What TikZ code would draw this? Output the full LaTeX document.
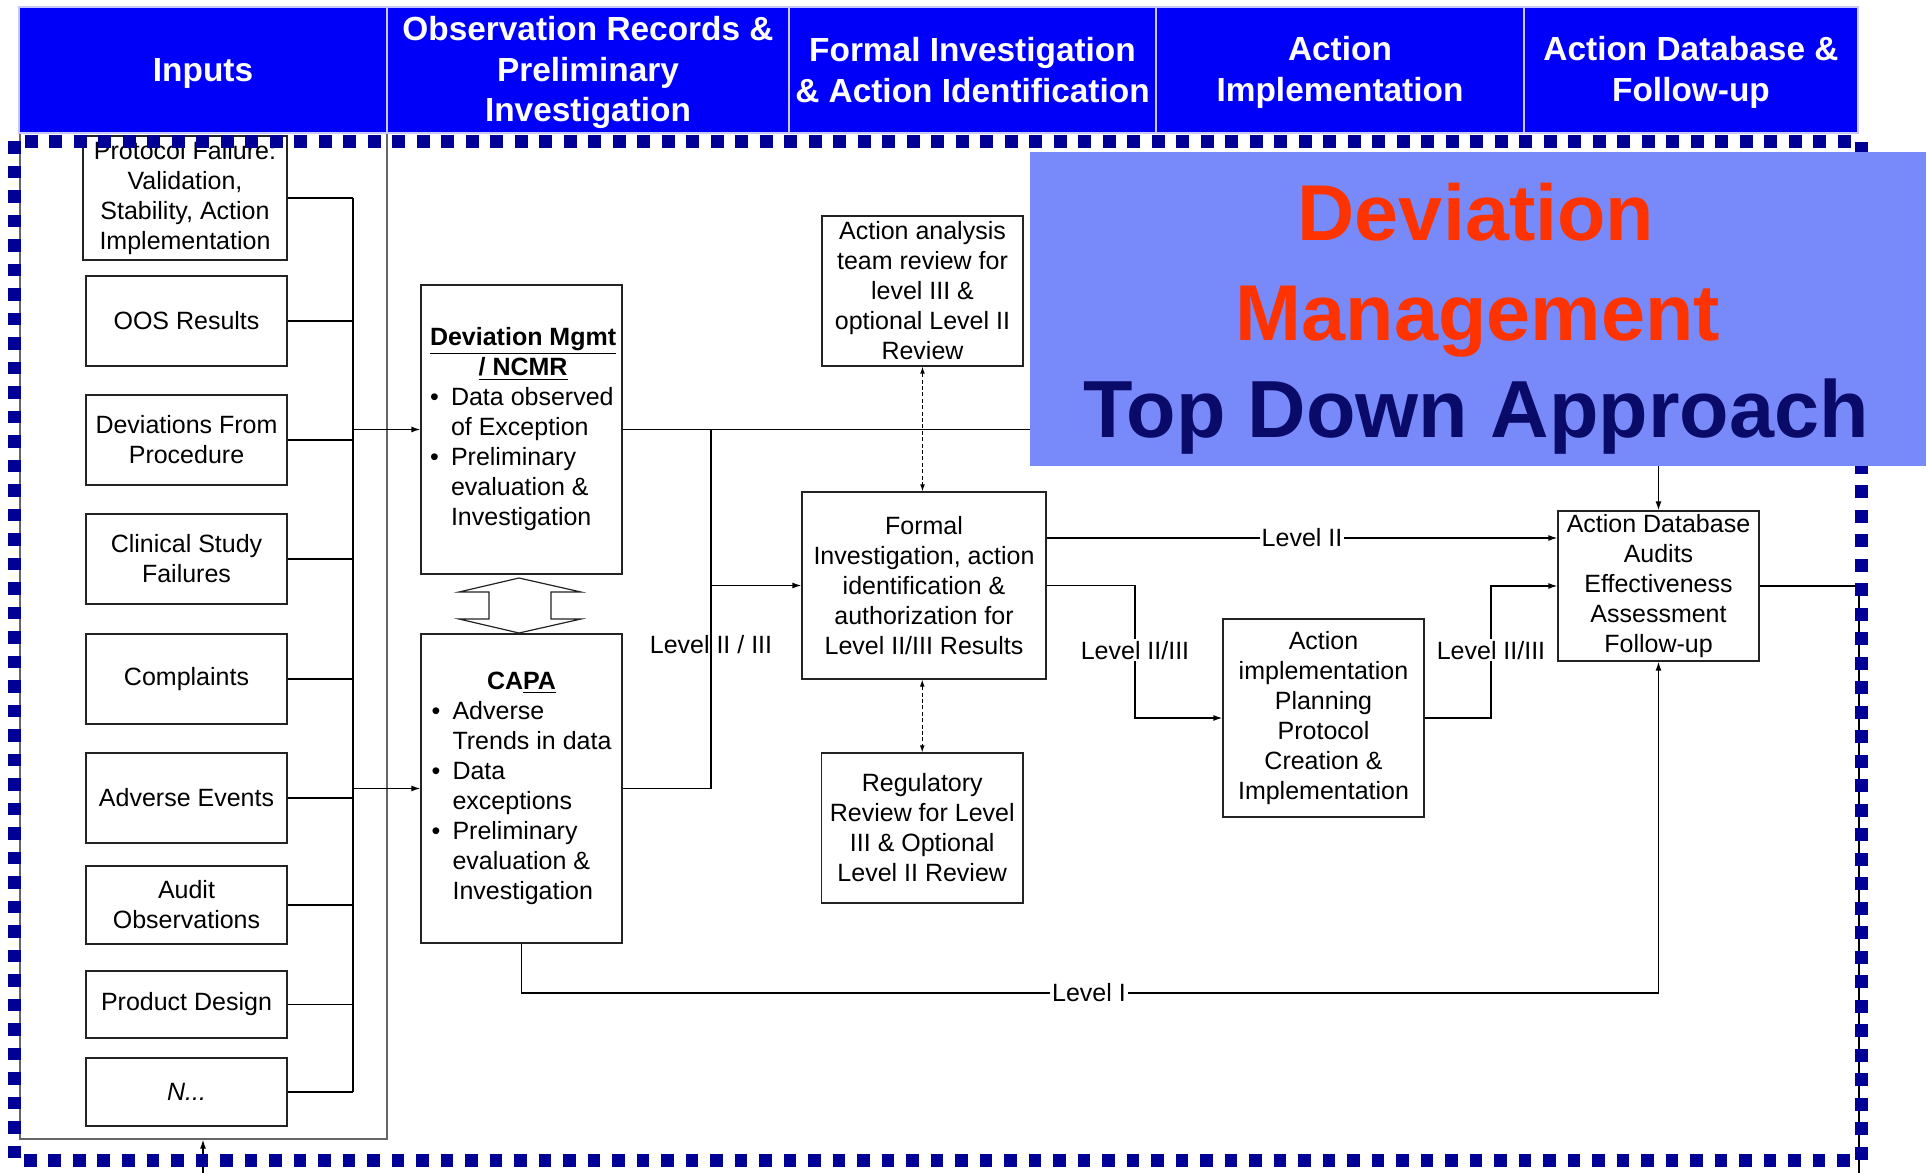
\documentclass[tikz,border=0pt]{standalone}
\usepackage{fontspec}
\setmainfont{Liberation Sans}
\usetikzlibrary{arrows.meta}
\definecolor{hdrblue}{RGB}{0,0,250}
\definecolor{hdredge}{RGB}{200,200,255}
\definecolor{frameblue}{RGB}{0,0,150}
\definecolor{titlebg}{RGB}{120,137,250}
\definecolor{titlered}{RGB}{255,51,0}
\definecolor{titlenavy}{RGB}{10,10,105}
\definecolor{edge}{RGB}{35,35,35}
\newcommand{\bodyfont}{\fontsize{12.5}{15}\selectfont}
\newcommand{\hdrfont}{\fontsize{16.7}{20.3}\selectfont\bfseries}
\newcommand{\bigfont}{\fontsize{39.6}{48}\selectfont\bfseries}
\newcommand{\bigfontb}{\fontsize{40.5}{48}\selectfont\bfseries}
\newcommand{\bitem}[1]{\makebox[10.5pt][l]{\textbullet}#1}
\newcommand{\cont}[1]{\hspace*{10.5pt}#1}
\newcommand{\ctitle}[1]{\multicolumn{1}{@{}c@{}}{#1}}
\begin{document}
\begin{tikzpicture}[x=0.5pt,y=-0.5pt,
  hdr/.style={draw=hdredge, line width=0.6pt, fill=hdrblue, inner sep=0pt, minimum height=63pt},
  hdrtxt/.style={text=white, font=\hdrfont, align=center, inner sep=0pt},
  box/.style={draw=edge, line width=0.65pt, fill=white, font=\bodyfont, align=center, inner sep=0pt},
  inbox/.style={box, minimum width=100.5pt},
  conn/.style={draw=black, line width=0.65pt},
  arr/.style={conn, -{Latex[length=4.5pt,width=3pt]}},
  darr/.style={draw=black, line width=0.5pt, dash pattern=on 2pt off 1.2pt, {Latex[length=3.5pt,width=2.4pt]}-{Latex[length=3.5pt,width=2.4pt]}},
  lvl/.style={font=\bodyfont, inner sep=1pt, anchor=base},
  lvlw/.style={lvl, fill=white},
  bigtxt/.style={font=\bigfont, inner sep=0pt, anchor=base},
]
\useasboundingbox (0,0) rectangle (1929,1173);
\fill[white] (0,0) rectangle (1929,1173);

% Inputs column frame
\node[draw=black!60, line width=0.6pt, minimum width=183.5pt, minimum height=503pt, inner sep=0pt] (inframe) at (203.5,636) {};

% Column headers
\node[hdr, minimum width=184pt] (h1) at (203,70) {};
\node[hdr, minimum width=201pt] (h2) at (588,70) {};
\node[hdr, minimum width=183.5pt] (h3) at (972.5,70) {};
\node[hdr, minimum width=184pt] (h4) at (1340,70) {};
\node[hdr, minimum width=167pt] (h5) at (1691,70) {};
\node[hdrtxt] (h1t) at (203,73.7) {Inputs};
\node[hdrtxt] (h2t) at (588,72.5) {Observation Records \&\\Preliminary\\Investigation};
\node[hdrtxt] (h3t) at (972.5,70) {Formal Investigation\\\& Action Identification};
\node[hdrtxt] (h4t) at (1340,72.5) {Action\\Implementation};
\node[hdrtxt] (h5t) at (1691,72.5) {Action Database \&\\Follow-up};

% Input sources
\node[box, minimum width=102pt, minimum height=62pt] (protocol) at (185,198) {Protocol Failure:\\Validation,\\Stability, Action\\Implementation};
\node[inbox, minimum height=45pt] (oos) at (186.5,321) {OOS Results};
\node[inbox, minimum height=45pt] (devproc) at (186.5,440) {Deviations From\\Procedure};
\node[inbox, minimum height=45pt] (clinical) at (186.5,559) {Clinical Study\\Failures};
\node[inbox, minimum height=45pt] (complaints) at (186.5,679) {Complaints};
\node[inbox, minimum height=45pt] (adverse) at (186.5,798) {Adverse Events};
\node[inbox, minimum height=39pt] (audit) at (186.5,905) {Audit\\Observations};
\node[inbox, minimum height=33.5pt] (product) at (186.5,1004.5) {Product Design};
\node[inbox, minimum height=34pt] (nfail) at (186.5,1092) {\textit{N...}};

% Observation records
\node[box, minimum width=100.5pt, minimum height=144.5pt] (devm) at (521.5,429.5) {};
\node[font=\bodyfont, inner sep=0pt] (devmtxt) at ([xshift=0.8pt]devm.center) {\begin{tabular}{@{}l@{}}
\ctitle{\underline{\textbf{Deviation Mgmt}}}\\
\ctitle{\underline{\textbf{/ NCMR}}}\\
\bitem{Data observed}\\
\cont{of Exception}\\
\bitem{Preliminary}\\
\cont{evaluation \&}\\
\cont{Investigation}
\end{tabular}};
\node[box, minimum width=100.5pt, minimum height=154.5pt] (capa) at (521.5,788.5) {};
\node[font=\bodyfont, inner sep=0pt] (capatxt) at (capa.center) {\begin{tabular}{@{}l@{}}
\ctitle{\textbf{CA\underline{PA}}}\\
\bitem{Adverse}\\
\cont{Trends in data}\\
\bitem{Data}\\
\cont{exceptions}\\
\bitem{Preliminary}\\
\cont{evaluation \&}\\
\cont{Investigation}
\end{tabular}};

% Formal investigation column
\node[box, minimum width=100.5pt, minimum height=75pt] (analysis) at (922.5,291) {Action analysis\\team review for\\level III \&\\optional Level II\\Review};
\node[box, minimum width=122pt, minimum height=93.5pt] (formal) at (924,585.5) {Formal\\Investigation, action\\identification \&\\authorization for\\Level II/III Results};
\node[box, minimum width=100.75pt, minimum height=75pt] (reg) at (922.25,828) {Regulatory\\Review for Level\\III \& Optional\\Level II Review};

% Action implementation and database
\node[box, minimum width=100.5pt, minimum height=99pt] (impl) at (1323.5,718) {Action\\implementation\\Planning\\Protocol\\Creation \&\\Implementation};
\node[box, minimum width=100.5pt, minimum height=75pt] (db) at (1658.5,586) {Action Database\\Audits\\Effectiveness\\Assessment\\Follow-up};

% Routing coordinates
\coordinate (bus) at (353,0);
\coordinate (mid) at (711,0);
\coordinate (j1) at (1135,0);
\coordinate (j2) at (1491,0);
\coordinate (l1) at (0,993);
\coordinate (l2) at (0,538);
\coordinate (fbR) at (1859,1173);
\coordinate (fbL) at (203,1173);

% Inputs bus
\foreach \n in {protocol,oos,devproc,clinical,complaints,adverse,audit,product,nfail}
  \draw[conn] (\n.east) -- (\n.east -| bus);
\draw[conn] (protocol.east -| bus) -- (nfail.east -| bus);
\draw[arr] (bus |- devm.west) -- (devm.west);
\draw[arr] (bus |- capa.west) -- (capa.west);

% Deviation / CAPA outputs
\draw[arr] (devm.east) -| (db.north);
\draw[conn] (devm.east -| mid) -- (capa.east -| mid);
\draw[conn] (capa.east) -- (capa.east -| mid);
\draw[arr] (mid |- formal.west) -- (formal.west);
\node[lvl] (lvlA) at (711,653) {Level II / III};

% Review links
\draw[darr] (analysis.south) -- (analysis.south |- formal.north);
\draw[darr] (reg.north |- formal.south) -- (reg.north);

% Level routes
\draw[arr] (formal.east |- l2) -- (db.west |- l2);
\node[lvlw] (lvlB) at (1302,546) {Level II};
\draw[arr] (formal.east) -- (formal.east -| j1) -- (impl.west -| j1) -- (impl.west);
\node[lvlw] (lvlC) at (1135,659) {Level II/III};
\draw[arr] (impl.east) -- (impl.east -| j2) -- (db.west -| j2) -- (db.west);
\node[lvlw] (lvlD) at (1491,659) {Level II/III};
\draw[arr] (capa.south) -- (capa.south |- l1) -- (db.south |- l1) -- (db.south);
\node[lvlw] (lvlE) at (1089,1001) {Level I};

% Feedback loop leaving the frame
\draw[conn] (db.east) -- (db.east -| fbR) -- (fbR);
\draw[arr] (fbL) -- (fbL |- inframe.south);

% Two-way block arrow between the records
\draw[edge, line width=0.6pt, fill=white] (519,578) -- (581,592) -- (551,592) -- (551,619) -- (581,619) -- (519,633) -- (459,619) -- (489,619) -- (489,592) -- (459,592) -- cycle;

% Dotted process frame
\draw[frameblue, line width=6.5pt, dash pattern=on 6.3pt off 5.95pt] (14,141) rectangle (1861,1160);

% Title panel
\node[fill=titlebg, minimum width=448pt, minimum height=157pt, inner sep=0pt] (titlebox) at (1478,309) {};
\node[bigtxt, text=titlered] (t1) at (1476,240) {Deviation};
\node[bigtxt, text=titlered] (t2) at (1478,340) {Management};
\node[bigtxt, font=\bigfontb, text=titlenavy] (t3) at (1476,437) {Top Down Approach};
\end{tikzpicture}
\end{document}
